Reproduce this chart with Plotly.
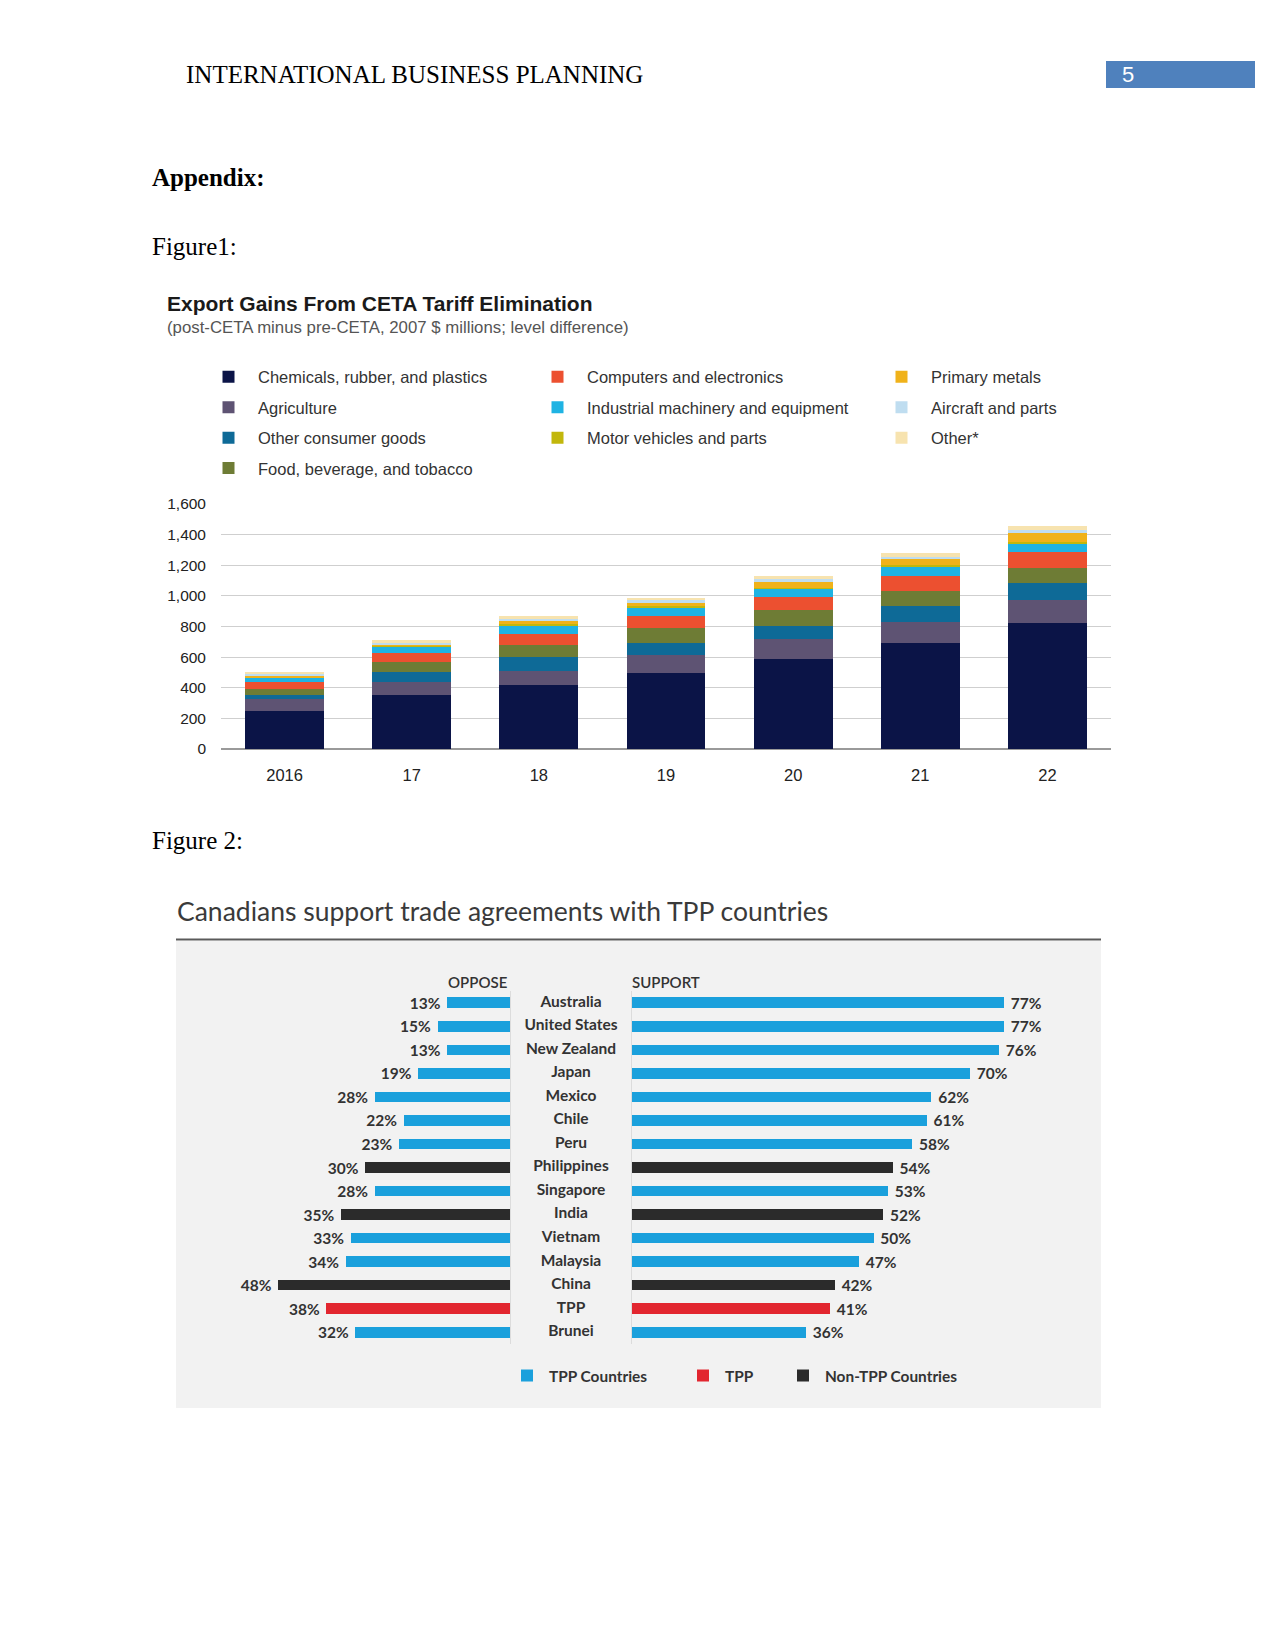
import plotly.graph_objects as go

W, H = 1275, 1650


def px(x):
    return x / W


def py(y):
    return 1 - y / H


# ---------------- Figure 1 data ----------------
years = ["2016", "17", "18", "19", "20", "21", "22"]
chemicals = [250, 350, 420, 495, 585, 695, 820]
agriculture = [75, 86, 92, 120, 135, 137, 153]
other_consumer = [30, 65, 88, 76, 81, 103, 109]
food_bev = [40, 66, 82, 98, 105, 98, 98]
computers = [45, 59, 70, 79, 87, 98, 108]
industrial = [25, 45, 55, 58, 52, 61, 55]
motor_vehicles = [5, 5, 8, 6, 8, 10, 10]
primary_metals = [10, 5, 18, 23, 38, 36, 60]
aircraft = [10, 10, 15, 15, 17, 19, 20]
other = [10, 20, 20, 18, 20, 20, 24]

series_names = [
    "Chemicals, rubber, and plastics", "Agriculture", "Other consumer goods",
    "Food, beverage, and tobacco", "Computers and electronics",
    "Industrial machinery and equipment", "Motor vehicles and parts",
    "Primary metals", "Aircraft and parts", "Other*",
]
series_values = [chemicals, agriculture, other_consumer, food_bev, computers,
                 industrial, motor_vehicles, primary_metals, aircraft, other]
series_colors = ["#0B1447", "#5E5373", "#0E6A97", "#6E7C35", "#EC5030",
                 "#1FB3E3", "#C2B70C", "#F0B21A", "#BFDDF0", "#F7E3AF"]
series_legend = ["legend", "legend", "legend", "legend",
                 "legend2", "legend2", "legend2",
                 "legend3", "legend3", "legend3"]
y_ticks = [0, 200, 400, 600, 800, 1000, 1200, 1400, 1600]

# ---------------- Figure 2 data ----------------
countries = ["Australia", "United States", "New Zealand", "Japan", "Mexico",
             "Chile", "Peru", "Philippines", "Singapore", "India", "Vietnam",
             "Malaysia", "China", "TPP", "Brunei"]
oppose = [13, 15, 13, 19, 28, 22, 23, 30, 28, 35, 33, 34, 48, 38, 32]
support = [77, 77, 76, 70, 62, 61, 58, 54, 53, 52, 50, 47, 42, 41, 36]
country_group = ["TPP Countries"] * 7 + ["Non-TPP Countries", "TPP Countries",
                 "Non-TPP Countries", "TPP Countries", "TPP Countries",
                 "Non-TPP Countries", "TPP", "TPP Countries"]
groups = ["TPP Countries", "TPP", "Non-TPP Countries"]
group_colors = {"TPP Countries": "#1AA0DC", "TPP": "#E2262F",
                "Non-TPP Countries": "#2B2B2B"}

fig = go.Figure()

# Figure 1 stacked bars
for name, vals, col, leg in zip(series_names, series_values, series_colors, series_legend):
    fig.add_trace(go.Bar(
        x=years, y=vals, name=name, xaxis="x", yaxis="y",
        marker=dict(color=col, line=dict(width=0)),
        legend=leg, legendgroup=name, hoverinfo="x+y+name",
    ))

# Figure 2 diverging bars
NB = "\u00a0"
lbl_font = dict(family="Lato", size=15.5, color="#333333", weight=700)
for gi, g in enumerate(groups):
    idx = [i for i, c in enumerate(country_group) if c == g]
    ys = [countries[i] for i in idx]
    fig.add_trace(go.Bar(
        x=[oppose[i] for i in idx], y=ys, orientation="h",
        xaxis="x2", yaxis="y3", width=0.45,
        marker=dict(color=group_colors[g], line=dict(width=0)),
        texttemplate="%{x}%" + NB, textposition="outside", textfont=lbl_font,
        constraintext="none", cliponaxis=False, showlegend=False,
        name=g,
    ))
    fig.add_trace(go.Bar(
        x=[support[i] for i in idx], y=ys, orientation="h",
        xaxis="x3", yaxis="y2", width=0.45,
        marker=dict(color=group_colors[g], line=dict(width=0)),
        texttemplate=NB + "%{x}%", textposition="outside", textfont=lbl_font,
        constraintext="none", cliponaxis=False, showlegend=True,
        name=g, legend="legend%d" % (4 + gi),
    ))

fig.add_trace(go.Scatter(
    x=[0.5] * len(countries), y=countries, text=countries, mode="text",
    xaxis="x4", yaxis="y2", textfont=lbl_font, showlegend=False,
    cliponaxis=False, hoverinfo="skip",
))

hidden = dict(showgrid=False, zeroline=False, showticklabels=False,
              showline=False, ticks="")

leg1 = dict(font=dict(family="Liberation Sans", size=16.5, color="#333333"),
            bgcolor="rgba(0,0,0,0)", traceorder="grouped", tracegroupgap=6,
            xanchor="left", yanchor="top", orientation="v", itemwidth=49)
leg2 = dict(font=dict(family="Lato", size=15.4, color="#333333", weight=700),
            bgcolor="rgba(0,0,0,0)", xanchor="left", yanchor="middle",
            orientation="v", itemwidth=34)

serif = "Liberation Serif"
annotations = [
    dict(text="INTERNATIONAL BUSINESS PLANNING", x=px(184), y=py(75),
         font=dict(family=serif, size=25, color="#000")),
    dict(text="5", x=px(1120), y=py(75),
         font=dict(family="Liberation Sans", size=22, color="#fff")),
    dict(text="<b>Appendix:</b>", x=px(150), y=py(177),
         font=dict(family=serif, size=25, color="#000")),
    dict(text="Figure1:", x=px(150), y=py(247),
         font=dict(family=serif, size=25, color="#000")),
    dict(text="Figure 2:", x=px(150), y=py(841),
         font=dict(family=serif, size=25, color="#000")),
    dict(text="<b>Export Gains From CETA Tariff Elimination</b>", x=px(165), y=py(304),
         font=dict(family="Liberation Sans", size=21, color="#1a1a1a")),
    dict(text="(post-CETA minus pre-CETA, 2007 $ millions; level difference)",
         x=px(165), y=py(328),
         font=dict(family="Liberation Sans", size=16.8, color="#555555")),
    dict(text="Canadians support trade agreements with TPP countries",
         x=px(175), y=py(911),
         font=dict(family="Lato", size=26.5, color="#3a3a3a")),
    dict(text="OPPOSE", x=px(510), y=py(982), xanchor="right",
         font=dict(family="Lato", size=15, color="#333333", weight=600)),
    dict(text="SUPPORT", x=px(630), y=py(982),
         font=dict(family="Lato", size=15, color="#333333", weight=600)),
]
for a in annotations:
    a.setdefault("xanchor", "left")
    a.update(xref="paper", yref="paper", yanchor="middle", showarrow=False)

shapes = [
    dict(type="rect", x0=px(1106), x1=px(1255), y0=py(61), y1=py(88),
         fillcolor="#4F81BD", line=dict(width=0), layer="below"),
    dict(type="rect", x0=px(176), x1=px(1101), y0=py(941), y1=py(1408),
         fillcolor="#F2F2F2", line=dict(width=0), layer="below"),
    dict(type="line", x0=px(176), x1=px(1101), y0=py(939.5), y1=py(939.5),
         line=dict(color="#5a5a5a", width=2)),
]
for s in shapes:
    s.update(xref="paper", yref="paper")

ydom2 = [py(1344), py(991)]

fig.update_layout(
    width=W, height=H,
    margin=dict(l=0, r=0, t=0, b=0, pad=0, autoexpand=False),
    paper_bgcolor="white", plot_bgcolor="rgba(0,0,0,0)",
    barmode="stack", bargap=0.38,
    xaxis=dict(domain=[px(221), px(1111)], anchor="y", type="category",
               categoryorder="array", categoryarray=years,
               showgrid=False, zeroline=False, showline=False, ticks="",
               tickfont=dict(family="Liberation Sans", size=16.5, color="#222"),
               ticklabelstandoff=14, automargin=False),
    yaxis=dict(domain=[py(749), py(504)], anchor="x", range=[0, 1600],
               tickvals=y_ticks, tickformat=",", showgrid=True,
               gridcolor="#cfcfcf", gridwidth=1, zeroline=True,
               zerolinecolor="#9a9a9a", zerolinewidth=1.5, ticks="",
               tickfont=dict(family="Liberation Sans", size=15.5, color="#222"),
               ticklabelstandoff=14, automargin=False),
    xaxis2=dict(domain=[px(510 - 50 * 4.83), px(510)], range=[50, 0],
                anchor="y3", **hidden),
    xaxis3=dict(domain=[px(632), px(632 + 80 * 4.83)], range=[0, 80],
                anchor="y2", **hidden),
    xaxis4=dict(domain=[px(511), px(631)], range=[0, 1], anchor="y2", **hidden),
    yaxis2=dict(domain=ydom2, anchor="x3", type="category",
                categoryorder="array", categoryarray=countries,
                range=[14.5, -0.5], showgrid=False, zeroline=False,
                showticklabels=False, ticks="", showline=True,
                linecolor="#dcdcdc", linewidth=1),
    yaxis3=dict(overlaying="y2", anchor="x2", side="right", type="category",
                categoryorder="array", categoryarray=countries,
                range=[14.5, -0.5], showgrid=False, zeroline=False,
                showticklabels=False, ticks="", showline=True,
                linecolor="#dcdcdc", linewidth=1),
    legend=dict(x=px(199), y=py(359.5), **leg1),
    legend2=dict(x=px(528), y=py(359.5), **leg1),
    legend3=dict(x=px(872), y=py(359.5), **leg1),
    legend4=dict(x=px(505), y=py(1376), **leg2),
    legend5=dict(x=px(681), y=py(1376), **leg2),
    legend6=dict(x=px(781), y=py(1376), **leg2),
    annotations=annotations,
    shapes=shapes,
    showlegend=True,
)

fig.write_html("out.html", config={"displayModeBar": False},
               post_script="document.body.style.margin='0';")
